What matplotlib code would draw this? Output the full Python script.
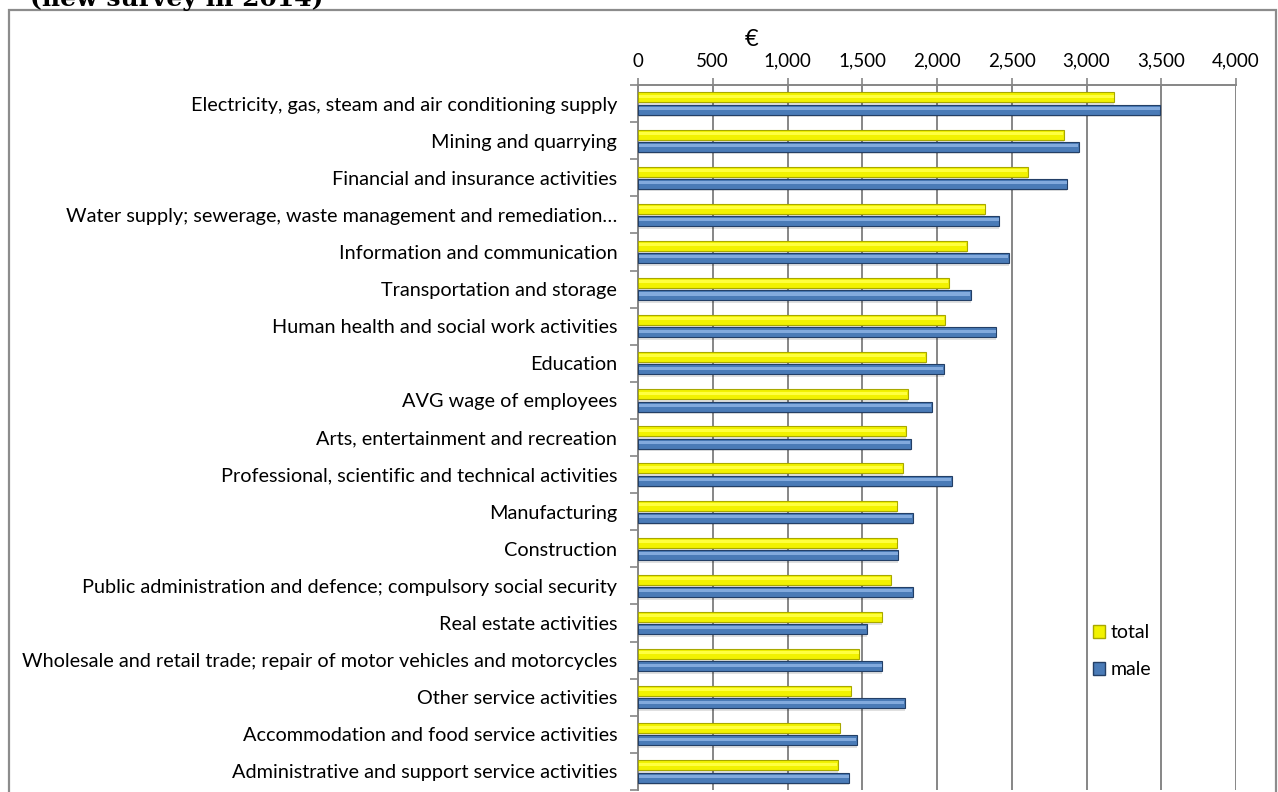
import matplotlib.pyplot as plt
from matplotlib.patches import Patch, Rectangle
import numpy as np

# Average monthly wage by sector, euros
sectors = [
	"Electricity, gas, steam and air conditioning supply",
	"Mining and quarrying",
	"Financial and insurance activities",
	"Water supply; sewerage, waste management and remediation\u2026",
	"Information and communication",
	"Transportation and storage",
	"Human health and social work activities",
	"Education",
	"AVG wage of employees",
	"Arts, entertainment and recreation",
	"Professional, scientific and technical activities",
	"Manufacturing",
	"Construction",
	"Public administration and defence; compulsory social security",
	"Real estate activities",
	"Wholesale and retail trade; repair of motor vehicles and motorcycles",
	"Other service activities",
	"Accommodation and food service activities",
	"Administrative and support service activities",
]
total = [3187, 2847, 2608, 2324, 2200, 2078, 2054, 1925, 1803, 1791,
	1771, 1735, 1735, 1691, 1635, 1479, 1428, 1353, 1336]
male = [3494, 2949, 2871, 2418, 2479, 2226, 2397, 2044, 1966, 1825,
	2100, 1839, 1742, 1837, 1530, 1633, 1783, 1465, 1414]
xticks = [0, 500, 1000, 1500, 2000, 2500, 3000, 3500, 4000]

plt.rcParams['font.family'] = ['Lato', 'DejaVu Sans']
grey = '#868686'

fig = plt.figure(figsize=(12.78, 7.92), dpi=100)
ax = fig.add_axes([638/1278, 1-790/792, (1236-638)/1278, (790-85)/792])

y = np.arange(len(sectors))
h = 0.27
off = 0.165

def bevel_bars(ypos, vals, face, edge, light):
	# soft drop shadow, body, then a highlight stripe for the rounded look
	ax.barh(ypos + 0.07, vals, height=h, left=0, color='#000000', alpha=0.12, zorder=2, linewidth=0)
	ax.barh(ypos, vals, height=h, color=face, edgecolor=edge, linewidth=0.8, zorder=3)
	ax.barh(ypos - h*0.12, np.array(vals) - 8, height=h*0.3, left=4, color=light, linewidth=0, zorder=4)

bevel_bars(y - off, total, '#F2F200', '#A8A800', '#FFFF40')
bevel_bars(y + off, male, '#4A7BB7', '#233F66', '#82AADD')

ax.set_xlim(0, 4000)
ax.set_ylim(len(sectors) - 0.5, -0.5)
ax.set_xticks(xticks)
ax.set_xticklabels(['{:,}'.format(v) for v in xticks], fontsize=13.5)
ax.xaxis.tick_top()
ax.tick_params(axis='x', which='major', length=5, color=grey, width=1.2, pad=6)
ax.grid(visible=True, which='major', axis='x', color=grey, linewidth=1.4, zorder=0)
ax.set_axisbelow(True)

ax.set_yticks(y)
ax.set_yticklabels(sectors, fontsize=14.3)
ax.set_yticks(np.arange(len(sectors) + 1) - 0.5, minor=True)
ax.tick_params(axis='y', which='major', length=0, pad=15)
ax.tick_params(axis='y', which='minor', length=6, color=grey, width=1.2)

for s in ['right', 'bottom']:
	ax.spines[s].set_visible(False)
for s in ['left', 'top']:
	ax.spines[s].set_color(grey)
	ax.spines[s].set_linewidth(1.4)

fig.text(752/1278, 1-40/792, '\u20ac', fontsize=17, ha='center', va='center')

handles = [Patch(facecolor='#F2F200', edgecolor='#A8A800'),
	Patch(facecolor='#4A7BB7', edgecolor='#233F66')]
ax.legend(handles, ['total', 'male'], loc='upper left', frameon=False,
	bbox_to_anchor=(1075/1278, 1-607/792), bbox_transform=fig.transFigure,
	fontsize=14, handlelength=0.65, handleheight=0.65, handletextpad=0.3,
	labelspacing=1.0)

# outer chart frame and the clipped heading above it
fig.patches.append(Rectangle((9/1278, -0.02), (1276-9)/1278, 1.02-10/792,
	transform=fig.transFigure, fill=False, edgecolor='#8c8c8c', linewidth=1.6))
fig.text(30/1278, 1-6/792, '(new survey in 2014)', family='DejaVu Serif',
	fontweight='bold', fontsize=18, ha='left', va='baseline')

fig.savefig('out.png', dpi=100)
